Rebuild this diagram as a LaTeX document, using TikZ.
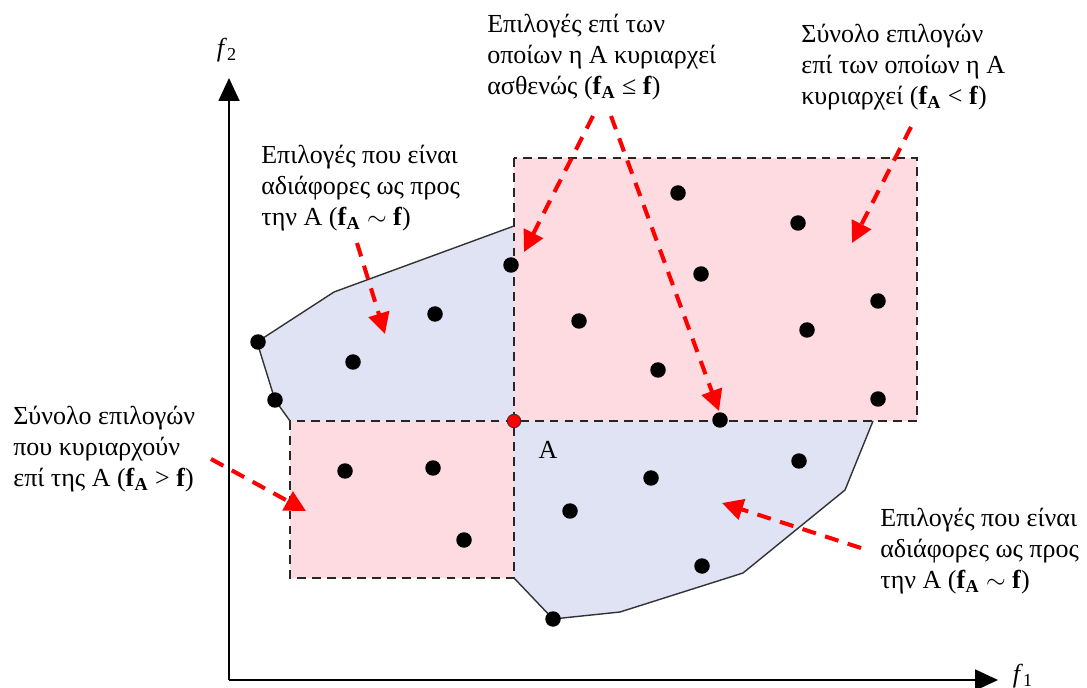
\documentclass[tikz,border=0pt]{standalone}
\usepackage{fontspec}
\setmainfont{Liberation Serif}
\usetikzlibrary{arrows.meta}
\newcommand{\fA}{\textbf{f}\textsubscript{\textbf{A}}}
\definecolor{pinkfill}{RGB}{253,219,224}
\definecolor{bluefill}{RGB}{223,227,243}
\begin{document}
\begin{tikzpicture}[
	x=0.02cm, y=-0.02cm,
	every node/.style={font=\fontsize{14.8pt}{17.8pt}\selectfont},
	note/.style={anchor=west, inner sep=0pt, align=left},
	dot/.style={circle, fill=black, inner sep=0pt, minimum size=0.31cm},
	optimum/.style={circle, fill=red, draw=black!80, line width=0.5pt, inner sep=0pt, minimum size=0.27cm},
	region/.style={fill=pinkfill, draw=black!85, dashed, dash pattern=on 5pt off 3.5pt, line width=0.8pt},
	hull/.style={draw=black!80, line width=0.8pt},
	axis/.style={line width=1pt, -{Triangle[length=0.46cm, width=0.42cm]}},
	pointer/.style={red, line width=2.3pt, dash pattern=on 8pt off 5.5pt, -{Triangle[length=0.42cm, width=0.42cm]}}
]
\useasboundingbox (0,0) rectangle (1087,688);
\fill[bluefill] (514,226) -- (334,292) -- (257,342) -- (275,400) -- (290,421) -- (290,578) -- (514,578) -- (553,619) -- (620,612) -- (743,573) -- (845,490) -- (873,421) -- (917,421) -- (917,158) -- (514,158) -- cycle;
\draw[region] (514,158) rectangle (917,421);
\draw[region] (290,421) rectangle (514,578);
\draw[hull] (514,226) -- (334,292) -- (257,342) -- (275,400) -- (290,421);
\draw[hull] (514,578) -- (553,619) -- (620,612) -- (743,573) -- (845,490) -- (873,421);

\coordinate (origin) at (229,680);
\coordinate (ytip) at (229,78);
\coordinate (xtip) at (998,680);
\draw[axis] (origin) -- (ytip);
\draw[axis] (origin) -- (xtip);
\node (f2) at (227,50) {\textit{f}\textsubscript{2}};
\node (f1) at (1023,676) {\textit{f}\textsubscript{1}};

\foreach \x/\y [count=\i] in {511/265, 435/314, 353/362, 258/342, 275/400,
	678/193, 798/223, 701/274, 579/321, 878/301, 807/330, 658/370, 878/399, 720/420,
	345/471, 433/468, 464/540,
	651/478, 570/511, 799/461, 702/566, 553/619}
	\node[dot] (p\i) at (\x,\y) {};
\node[optimum] (A) at (514,421) {};
\node (Alabel) at (548,450) {A};

\node[note] (weak) at (487,57) {Επιλογές επί των\\οποίων η A κυριαρχεί\\ασθενώς (\fA{} ≤ \textbf{f})};
\node[note] (strict) at (801,67) {Σύνολο επιλογών\\επί των οποίων η A\\κυριαρχεί (\fA{} < \textbf{f})};
\node[note] (indiffup) at (261,188) {Επιλογές που είναι\\αδιάφορες ως προς\\την A (\fA{} $\sim$ \textbf{f})};
\node[note] (dominate) at (13,449) {Σύνολο επιλογών\\που κυριαρχούν\\επί της A (\fA{} > \textbf{f})};
\node[note] (indiffdown) at (880,551) {Επιλογές που είναι\\αδιάφορες ως προς\\την A (\fA{} $\sim$ \textbf{f})};

\coordinate (s1) at (593,116);
\coordinate (t1) at (524,252);
\coordinate (s2) at (611,116);
\coordinate (t2) at (719,411);
\coordinate (s3) at (911,127);
\coordinate (t3) at (852,243);
\coordinate (s4) at (357,243);
\coordinate (t4) at (385,334);
\coordinate (s5) at (211,459);
\coordinate (t5) at (306,511);
\coordinate (s6) at (861,548);
\coordinate (t6) at (722,503);
\draw[pointer] (s1) -- (t1);
\draw[pointer] (s2) -- (t2);
\draw[pointer] (s3) -- (t3);
\draw[pointer] (s4) -- (t4);
\draw[pointer] (s5) -- (t5);
\draw[pointer] (s6) -- (t6);
\end{tikzpicture}
\end{document}
